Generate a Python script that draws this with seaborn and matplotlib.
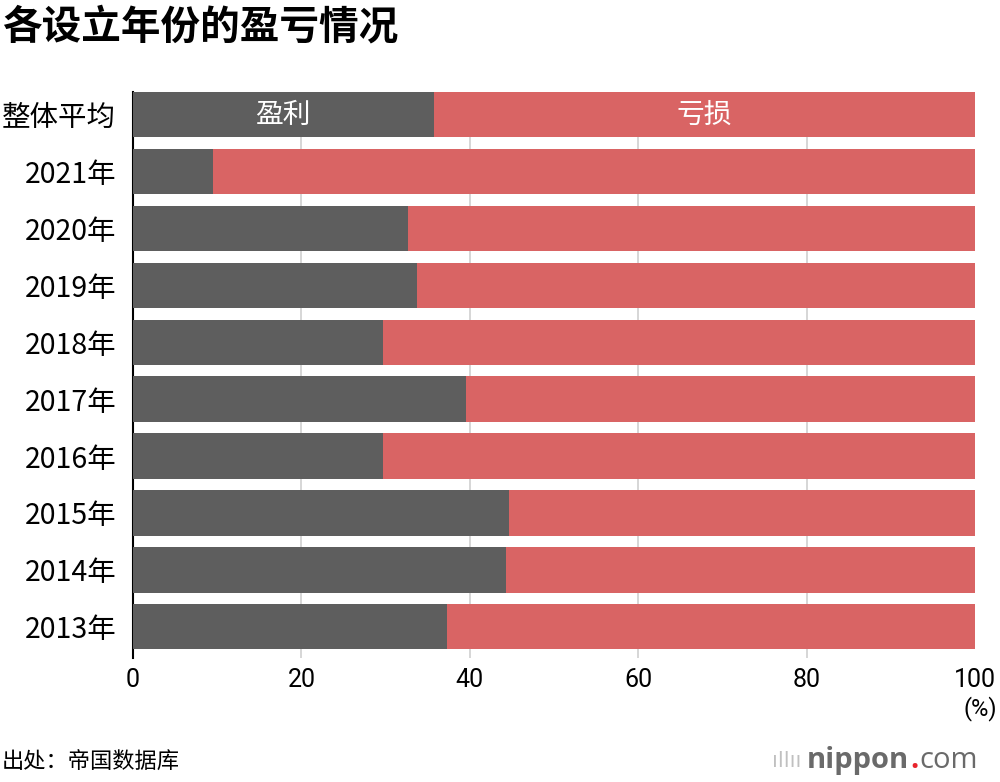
import matplotlib
matplotlib.use("Agg")

import matplotlib.pyplot as plt
import seaborn as sns
import pandas as pd

# 数据
categories = ["整体平均", "2021年", "2020年", "2019年", "2018年",
              "2017年", "2016年", "2015年", "2014年", "2013年"]
profit = [35.7, 9.5, 32.7, 33.7, 29.7, 39.5, 29.7, 44.7, 44.3, 37.3]
loss = [100 - p for p in profit]
x_ticks = [0, 20, 40, 60, 80, 100]

GRAY = "#5e5e5e"
RED = "#d96464"
NUM_FONT = ["Roboto", "DejaVu Sans"]

sns.set_theme(style="white")
plt.rcParams["font.family"] = ["Noto Sans CJK SC", "DejaVu Sans"]
plt.rcParams["text.color"] = "black"
plt.rcParams["xtick.color"] = "black"
plt.rcParams["ytick.color"] = "black"

df = pd.DataFrame({
    "category": categories,
    "profit": profit,
    "total": [p + l for p, l in zip(profit, loss)],
})

fig = plt.figure(figsize=(10, 7.82), dpi=100)
ax = fig.add_axes([0.133, 0.1586, 0.842, 0.7238])

# 背景网格
for t in x_ticks[1:-1]:
    ax.axvline(t, color="#d0d0d0", linewidth=1.2, zorder=0)

# 亏损 (整条) 再叠加盈利
sns.barplot(data=df, x="total", y="category", orient="h",
            color=RED, width=0.8, saturation=1, linewidth=0,
            ax=ax, zorder=2)
sns.barplot(data=df, x="profit", y="category", orient="h",
            color=GRAY, width=0.8, saturation=1, linewidth=0,
            ax=ax, zorder=3)

ax.set_xlim(0, 100)
ax.set_ylim(9.55, -0.4)
ax.set_xlabel("")
ax.set_ylabel("")

ax.set_xticks(x_ticks)
ax.set_xticklabels([str(t) for t in x_ticks], fontsize=18, family=NUM_FONT)
ax.tick_params(axis="x", length=6, width=1.2, color="#c8c8c8", pad=1)
for tick in (ax.xaxis.get_major_ticks()[0], ax.xaxis.get_major_ticks()[-1]):
    tick.tick1line.set_color("black")
ax.tick_params(axis="y", length=0, pad=12)
for lab in ax.get_yticklabels():
    lab.set_fontsize(20.5)

for side in ["top", "right", "bottom"]:
    ax.spines[side].set_visible(False)
ax.spines["left"].set_color("black")
ax.spines["left"].set_linewidth(1.5)

# 图例文字放在条内
ax.text(profit[0] / 2, 0, "盈利", color="white", fontsize=20,
        ha="center", va="center", zorder=5)
ax.text(profit[0] + loss[0] / 2, 0, "亏损", color="white", fontsize=20,
        ha="center", va="center", zorder=5)

# 标题、单位、出处
fig.text(0.002, 0.966, "各设立年份的盈亏情况", fontsize=28.5,
         fontweight="bold", ha="left", va="center")
fig.text(0.997, 0.094, "(%)", fontsize=17, ha="right", va="center",
         family=NUM_FONT)
fig.text(0.002, 0.025, "出处：帝国数据库", fontsize=16, ha="left", va="center")

# nippon.com 标志
renderer = fig.canvas.get_renderer()
fig.text(0.772, 0.027, "ıllıı", fontsize=15, color="#c0c0c0",
         ha="left", va="center", family=["DejaVu Sans"])
x0 = 0.807
for s, col, wt in [("nippon", "#6a6a6a", "bold"), (".", "#e8242c", "bold"),
                   ("com", "#6a6a6a", "normal")]:
    t = fig.text(x0, 0.027, s, fontsize=21, color=col, fontweight=wt,
                 ha="left", va="center", family=["Open Sans", "DejaVu Sans"])
    bb = t.get_window_extent(renderer)
    x0 = bb.x1 / fig.bbox.width + 0.001

plt.savefig("out.png", dpi=100)
plt.close()
